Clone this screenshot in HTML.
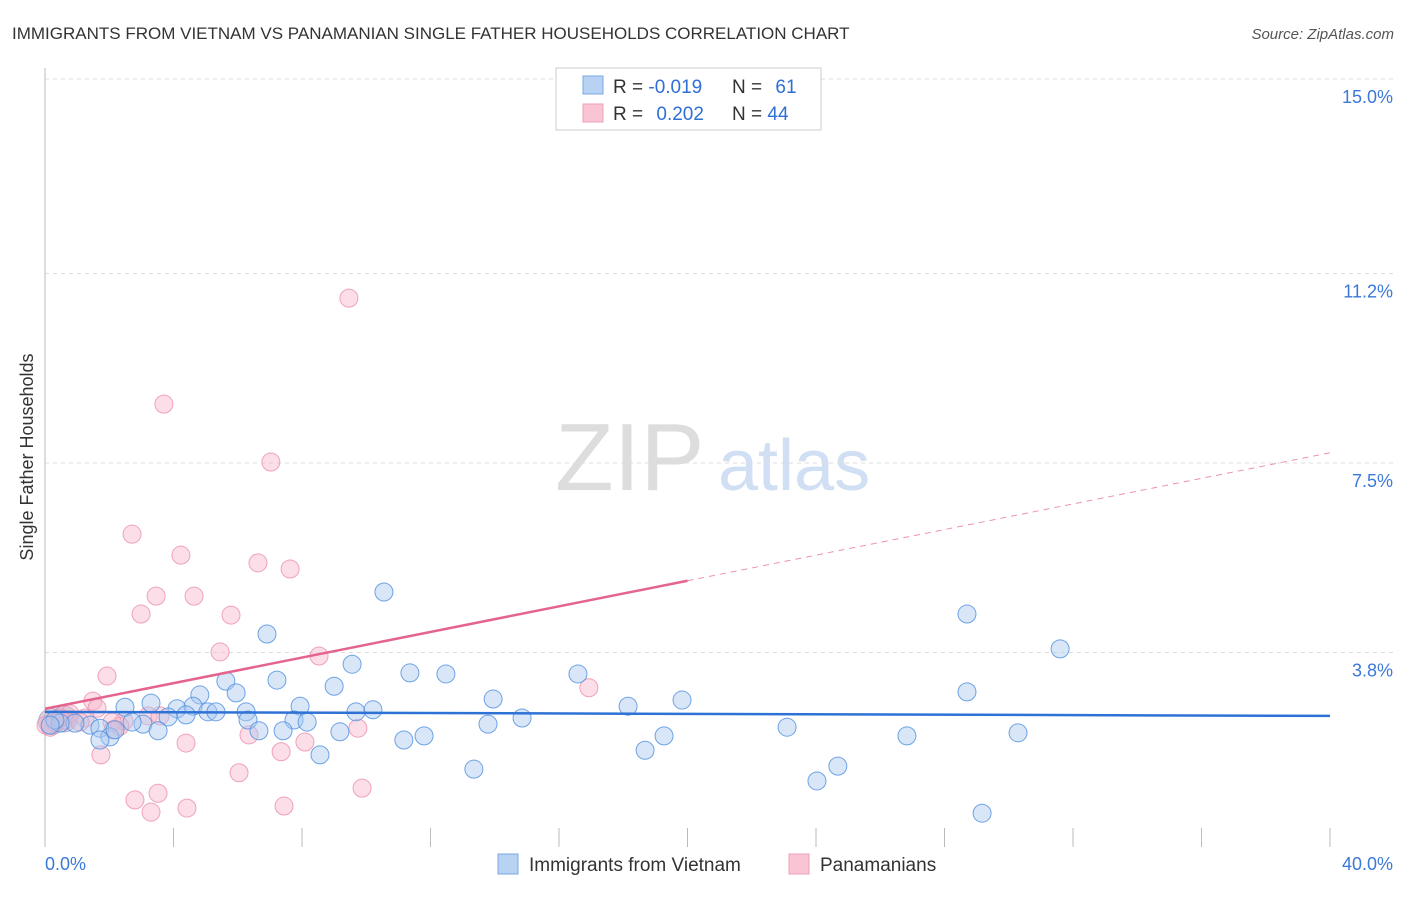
<!DOCTYPE html>
<html><head><meta charset="utf-8"><style>
body{margin:0;background:#fff;font-family:"Liberation Sans",sans-serif;}
svg text{font-family:"Liberation Sans",sans-serif;}
</style></head><body>
<svg id="chart" width="1406" height="892" xmlns="http://www.w3.org/2000/svg">
<text x="12" y="39" font-size="17" fill="#333">IMMIGRANTS FROM VIETNAM VS PANAMANIAN SINGLE FATHER HOUSEHOLDS CORRELATION CHART</text>
<text x="1394" y="39" font-size="15" fill="#555" font-style="italic" text-anchor="end">Source: ZipAtlas.com</text>
<text x="33" y="457" font-size="18" fill="#333" text-anchor="middle" transform="rotate(-90 33 457)">Single Father Households</text>
<text x="555" y="490" font-size="96" fill="#ddd" font-family="Liberation Serif">ZIP</text>
<text x="718" y="490" font-size="72" fill="#d0dff3">atlas</text>
<g id="grid"></g><g id="pts"></g><g id="lines"></g>
<g>
<rect x="556" y="68" width="265" height="62" fill="#fff" stroke="#ccc"/>
<rect x="583" y="76" width="20" height="18" fill="#b8d2f4" stroke="#7aa7e6"/>
<rect x="583" y="104" width="20" height="18" fill="#f9c4d3" stroke="#ef9fb7"/>
<text x="613" y="93" font-size="19" fill="#333">R = <tspan fill="#2f6fd6">-0.019</tspan></text>
<text x="732" y="93" font-size="19" fill="#333">N = <tspan fill="#2f6fd6" dx="8">61</tspan></text>
<text x="613" y="120" font-size="19" fill="#333">R = <tspan fill="#2f6fd6" dx="8">0.202</tspan></text>
<text x="732" y="120" font-size="19" fill="#333">N = <tspan fill="#2f6fd6">44</tspan></text>
</g>
<g>
<rect x="498" y="854" width="20" height="20" fill="#b8d2f4" stroke="#7aa7e6"/>
<text x="529" y="871" font-size="19" fill="#333">Immigrants from Vietnam</text>
<rect x="789" y="854" width="20" height="20" fill="#f9c4d3" stroke="#ef9fb7"/>
<text x="820" y="871" font-size="19" fill="#333">Panamanians</text>
</g>
</svg>
<script>
const yTicks=[3.8,7.5,11.2,15.0];
const yTickLabels=["3.8%","7.5%","11.2%","15.0%"];
const xTicks=[4,8,12,16,20,24,28,32,36,40];
const blueX=[10.55,28.70,6.91,31.60,9.56,11.36,12.48,16.59,5.63,7.22,9.00,28.70,5.95,3.30,4.82,13.95,19.83,2.49,4.11,4.61,5.07,5.32,7.94,9.68,10.21,18.15,6.26,4.39,3.83,6.32,7.75,8.16,14.85,13.79,3.05,3.52,2.71,1.40,0.93,0.47,0.31,0.16,1.71,2.02,1.71,2.18,6.66,7.41,9.18,11.17,11.80,19.27,23.10,26.83,30.29,18.68,8.56,13.35,24.68,24.03,29.17];
const blueY=[4.98,4.55,4.16,3.87,3.57,3.40,3.38,3.38,3.24,3.26,3.14,3.03,3.01,2.81,2.97,2.89,2.87,2.73,2.70,2.75,2.64,2.64,2.75,2.64,2.68,2.75,2.64,2.58,2.54,2.48,2.48,2.44,2.52,2.40,2.40,2.27,2.44,2.38,2.42,2.42,2.48,2.38,2.32,2.15,2.09,2.29,2.27,2.27,2.25,2.09,2.17,2.17,2.34,2.17,2.23,1.89,1.80,1.52,1.58,1.29,0.66];
const pinkX=[9.46,3.70,7.03,2.71,4.23,6.63,7.63,3.46,4.64,2.99,5.79,5.45,8.53,1.93,16.93,1.49,1.62,3.21,2.46,2.33,2.09,1.25,0.78,0.62,0.31,0.16,2.12,3.58,9.74,6.35,4.39,8.09,7.35,1.74,6.04,9.87,2.80,3.52,3.30,4.42,7.44,0.47,1.09,0.03];
const pinkY=[10.72,8.65,7.52,6.11,5.70,5.55,5.43,4.90,4.90,4.55,4.53,3.81,3.73,3.34,3.11,2.85,2.71,2.56,2.46,2.36,2.44,2.52,2.60,2.48,2.44,2.34,2.29,2.56,2.32,2.19,2.03,2.05,1.86,1.80,1.45,1.15,0.92,1.05,0.68,0.76,0.80,2.52,2.44,2.38];
const blueTrend=[2.64,2.56];
const pinkTrend=[2.70,7.70];
const NS="http://www.w3.org/2000/svg";
const xs=v=>45+v/40*1285, ys=v=>847-(v/15)*768;
function mk(t,a,p){const e=document.createElementNS(NS,t);for(const k in a)e.setAttribute(k,a[k]);document.getElementById(p).appendChild(e);return e;}
const ax=mk('line',{x1:45,y1:68,x2:45,y2:847,stroke:'#bbb'},'grid');


yTicks.forEach((v,i)=>{
 const g=mk('line',{x1:45,x2:1394,y1:ys(v),y2:ys(v),stroke:'#ddd','stroke-dasharray':'4,4'},'grid');
 
 
 const t=mk('text',{x:1393,y:ys(v)+24,'font-size':18,fill:'#3b78d8','text-anchor':'end'},'grid');t.textContent=yTickLabels[i];
 
 
});
xTicks.forEach(v=>{
 const l=mk('line',{x1:xs(v),x2:xs(v),y1:828,y2:847,stroke:'#bbb'},'grid');
 
 
});
let t0=mk('text',{x:45,y:870,'font-size':18,fill:'#3b78d8'},'grid');t0.textContent='0.0%';


let t1=mk('text',{x:1393,y:870,'font-size':18,fill:'#3b78d8','text-anchor':'end'},'grid');t1.textContent='40.0%';


// big overlapping bubbles near origin
[[0.2,2.45,'#b8a3c8'],[0.6,2.5,'#b8a3c8']].forEach(d=>{
 const c=mk('circle',{cx:xs(d[0]),cy:ys(d[1]),r:13,fill:d[2],'fill-opacity':0.5,stroke:'#9a88b8','stroke-opacity':0.6},'pts');
 
 
});
pinkX.forEach((v,i)=>{
 const c=mk('circle',{cx:xs(v),cy:ys(pinkY[i]),r:9,fill:'#f7b6c9','fill-opacity':0.45,stroke:'#ec8fad','stroke-opacity':0.8},'pts');
 
 
});
blueX.forEach((v,i)=>{
 const c=mk('circle',{cx:xs(v),cy:ys(blueY[i]),r:9,fill:'#a9c8f0','fill-opacity':0.45,stroke:'#4f8ee0','stroke-opacity':0.8},'pts');
 
 
});
const bl=mk('line',{x1:xs(0),y1:ys(blueTrend[0]),x2:xs(40),y2:ys(blueTrend[1]),stroke:'#2f72d6','stroke-width':2.5},'lines');


const pm=(pinkTrend[0]+pinkTrend[1])/2;
const pl=mk('line',{x1:xs(0),y1:ys(pinkTrend[0]),x2:xs(20),y2:ys(pm),stroke:'#e5648d','stroke-width':2.5},'lines');


const pd=mk('line',{x1:xs(20),y1:ys(pm),x2:xs(40),y2:ys(pinkTrend[1]),stroke:'#e5648d','stroke-width':1,'stroke-dasharray':'6,5','stroke-opacity':0.7},'lines');


</script>
</body></html>
